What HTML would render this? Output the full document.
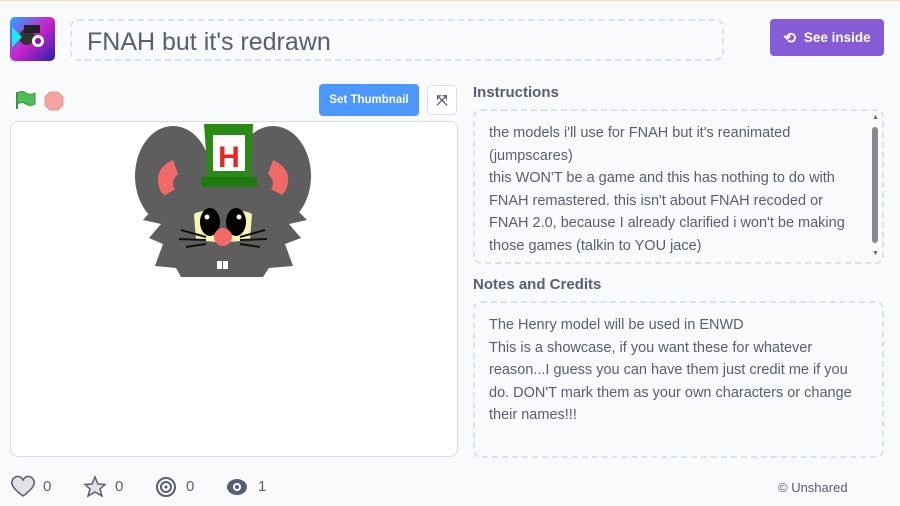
<!DOCTYPE html>
<html><head><meta charset="utf-8"><style>
*{box-sizing:border-box;margin:0;padding:0}
body{width:900px;height:506px;background:#f9fafb;font-family:"Liberation Sans",sans-serif;position:relative;overflow:hidden;color:#575e75;border-top:1px solid #f5dcc0}
.abs{position:absolute}
.title{left:70px;top:18px;width:654px;height:42px;border:2px dashed #d5e4f7;border-radius:8px;font-size:25px;padding:7px 0 0 15px;color:#575e75}
.btn{color:#fff;font-weight:bold;border-radius:4px;font-size:13px;display:flex;align-items:center;justify-content:center}
.box{border:2px dashed #d5e4f7;border-radius:8px;font-size:14.5px;line-height:22.5px;padding:11px 14px;color:#575e75}
h3{position:absolute;font-size:15px;font-weight:bold;color:#575e75}
.stat{position:absolute;top:477px;font-size:15px;color:#575e75}
</style></head><body>
<div class="abs" style="left:10px;top:16px;width:45px;height:44px;border-radius:5px;background:linear-gradient(135deg,#2af 0%,#c2c 50%,#22a 100%)">
<svg width="45" height="44"><circle cx="17" cy="20" r="8" fill="#333"/><circle cx="28" cy="24" r="6" fill="#fff"/><circle cx="28" cy="24" r="3" fill="#90c"/><rect x="14" y="8" width="16" height="8" fill="#222"/><path d="M2 10 L12 20 L2 30Z" fill="#1ee"/></svg></div>
<div class="abs title">FNAH but it's redrawn</div>
<div class="abs btn" style="left:770px;top:18px;width:114px;height:37px;background:#855cd6;font-size:13.5px"><span style="font-size:15px;margin-right:8px">⟲</span>See inside</div>
<svg class="abs" style="left:14px;top:88px" width="60" height="24"><path d="M3 3 L3 20" stroke="#3d8f3d" stroke-width="2"/><path d="M3 4 Q8 1 12 4 Q16 7 21 4 L21 15 Q16 18 12 15 Q8 12 3 15Z" fill="#4cbf56" stroke="#3d8f3d"/><polygon points="36,3 44,3 49,8 49,16 44,21 36,21 31,16 31,8" fill="#f5a3a3" stroke="#e79595"/></svg>
<div class="abs btn" style="left:319px;top:83px;width:100px;height:32px;background:#4c97ff;font-size:11.5px">Set Thumbnail</div>
<div class="abs" style="left:427px;top:84px;width:30px;height:30px;background:#fff;border:1px solid #dde;border-radius:4px;text-align:center;line-height:28px;font-size:14px;color:#575e75;font-weight:bold">⤧</div>
<div class="abs" style="left:10px;top:120px;width:448px;height:336px;background:#fff;border:1px solid #ddd;border-radius:8px">
<svg width="446" height="334" style="position:absolute;left:0;top:0">
<g transform="translate(-10,-120)">
<ellipse cx="172" cy="174" rx="38" ry="50" fill="#5e5e5e"/>
<ellipse cx="272" cy="174" rx="38" ry="50" fill="#5e5e5e"/>
<path d="M172 158 Q150 168 160 190 Q170 200 182 195 Q165 183 177 172Z" fill="#f06868"/>
<path d="M272 158 Q294 168 284 190 Q274 200 262 195 Q279 183 267 172Z" fill="#f06868"/>
<path d="M158 200 L142 218 L160 222 L148 236 L162 242 L154 264 L175 266 L180 275 L262 275 L268 266 L292 264 L284 242 L300 236 L288 222 L306 218 L288 200 Q272 180 222 180 Q172 180 158 200Z" fill="#5e5e5e"/>
<path d="M193 212 Q215 200 215 240 L195 238Z" fill="#f8f4b6"/><path d="M251 212 Q229 200 229 240 L249 238Z" fill="#f8f4b6"/>
<ellipse cx="209" cy="220" rx="10" ry="14" fill="#000"/><ellipse cx="235" cy="220" rx="10" ry="14" fill="#000"/>
<circle cx="206" cy="215" r="2.5" fill="#fff"/><circle cx="238" cy="215" r="2.5" fill="#fff"/>
<path d="M180 228 L205 235 M178 237 L205 238 M185 245 L205 242 M264 228 L239 235 M266 237 L239 238 M259 245 L239 242" stroke="#111" stroke-width="2"/>
<circle cx="222" cy="235" r="9" fill="#f06868"/>
<rect x="216" y="259" width="5" height="8" fill="#fff"/><rect x="222" y="259" width="5" height="8" fill="#fff"/>
<path d="M203 122 L252 122 L250 178 L207 178Z" fill="#2a8a16"/>
<rect x="200" y="175" width="56" height="10" rx="2" fill="#1f7a10"/>
<rect x="212" y="133" width="32" height="36" fill="#fff"/>
<text x="228" y="165" font-size="30" font-weight="bold" fill="#e22" text-anchor="middle" font-family="Liberation Sans">H</text>
</g></svg></div>
<h3 style="left:473px;top:83px">Instructions</h3>
<div class="abs box" style="left:473px;top:108px;width:411px;height:155px;padding-right:24px">the models i'll use for FNAH but it's reanimated (jumpscares)<br>this WON'T be a game and this has nothing to do with FNAH remastered. this isn't about FNAH recoded or FNAH 2.0, because I already clarified i won't be making those games (talkin to YOU jace)</div>
<div class="abs" style="left:872px;top:126px;width:6px;height:116px;background:#888;border-radius:3px"></div>
<div class="abs" style="left:872px;top:113px;font-size:7px;color:#666">▲</div>
<div class="abs" style="left:872px;top:249px;font-size:7px;color:#666">▼</div>
<h3 style="left:473px;top:275px">Notes and Credits</h3>
<div class="abs box" style="left:473px;top:300px;width:411px;height:157px">The Henry model will be used in ENWD<br>This is a showcase, if you want these for whatever reason...I guess you can have them just credit me if you do. DON'T mark them as your own characters or change their names!!!</div>
<svg class="abs" style="left:10px;top:474px" width="270" height="24">
<path d="M13 21 C2 13 0 8 3 4 C6 0 11 1 13 5 C15 1 20 0 23 4 C26 8 24 13 13 21Z" fill="#e2e2e6" stroke="#575e75" stroke-width="1.5"/>
<polygon points="85,2 88,9 95,9.5 90,14 92,21 85,17 78,21 80,14 75,9.5 82,9" fill="#e2e2e6" stroke="#575e75" stroke-width="1.5"/>
<circle cx="156" cy="12" r="9" fill="none" stroke="#575e75" stroke-width="2"/><circle cx="156" cy="12" r="5" fill="none" stroke="#575e75" stroke-width="2"/><circle cx="156" cy="12" r="1.5" fill="#575e75"/>
<ellipse cx="227" cy="12" rx="10" ry="8" fill="#575e75"/><circle cx="227" cy="12" r="4" fill="#fff"/><circle cx="227" cy="12" r="2" fill="#575e75"/>
</svg>
<div class="stat" style="left:43px">0</div><div class="stat" style="left:115px">0</div><div class="stat" style="left:186px">0</div><div class="stat" style="left:258px">1</div>
<div class="abs" style="left:778px;top:479px;font-size:13px;color:#575e75">© Unshared</div>
</body></html>
